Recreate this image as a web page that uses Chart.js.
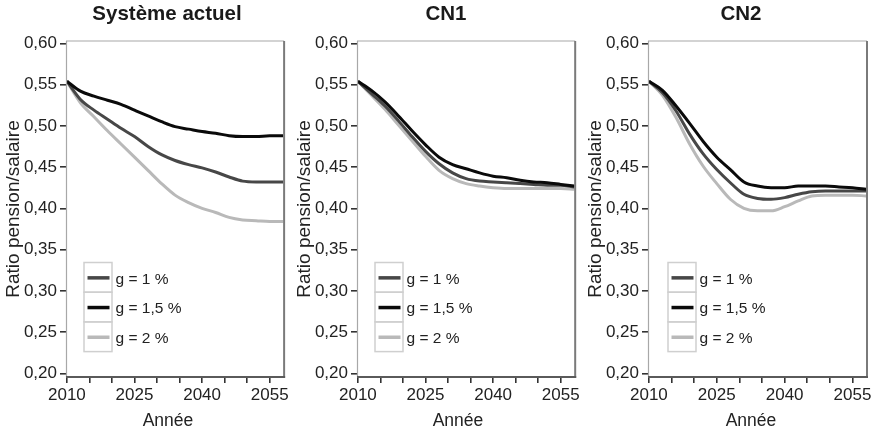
<!DOCTYPE html>
<html>
<head>
<meta charset="utf-8">
<script src="https://cdn.jsdelivr.net/npm/chart.js@4.4.1/dist/chart.umd.min.js"></script>
<style>
  html, body { margin: 0; padding: 0; background: #fff; }
  #wrap { position: relative; width: 874px; height: 432px; overflow: hidden; }
  .pane { position: absolute; top: 0; height: 432px; }
</style>
</head>
<body>
<div id="wrap">
  <div class="pane" style="left:0px;width:291px"><canvas id="c0" width="291" height="432"></canvas></div>
  <div class="pane" style="left:291px;width:291px"><canvas id="c1" width="291" height="432"></canvas></div>
  <div class="pane" style="left:582px;width:292px"><canvas id="c2" width="292" height="432"></canvas></div>
</div>
<script>
// ---------- data ----------
const years = [2010, 2013, 2016, 2019, 2022, 2025, 2028, 2031, 2034, 2037, 2040, 2043, 2046, 2049, 2052, 2055, 2058];
const panelTitles = ['Système actuel', 'CN1', 'CN2'];
const seriesLabels = ['g = 1 %', 'g = 1,5 %', 'g = 2 %'];
const seriesColors = ['#474747', '#0a0a0a', '#b9b9b9'];

const actuel_g1  = [0.554, 0.532, 0.519, 0.508, 0.497, 0.487, 0.475, 0.465, 0.458, 0.453, 0.449, 0.444, 0.438, 0.433, 0.432, 0.432, 0.432];
const actuel_g15 = [0.554, 0.542, 0.536, 0.531, 0.526, 0.519, 0.512, 0.505, 0.499, 0.496, 0.493, 0.491, 0.488, 0.487, 0.487, 0.488, 0.488];
const actuel_g2  = [0.554, 0.528, 0.511, 0.494, 0.478, 0.462, 0.446, 0.430, 0.416, 0.407, 0.400, 0.395, 0.389, 0.386, 0.385, 0.384, 0.384];

const cn1_g1  = [0.554, 0.539, 0.524, 0.506, 0.487, 0.469, 0.454, 0.443, 0.436, 0.433, 0.432, 0.431, 0.430, 0.429, 0.428, 0.428, 0.426];
const cn1_g15 = [0.554, 0.543, 0.529, 0.512, 0.494, 0.477, 0.462, 0.453, 0.448, 0.443, 0.439, 0.437, 0.434, 0.432, 0.431, 0.429, 0.427];
const cn1_g2  = [0.554, 0.537, 0.520, 0.501, 0.482, 0.463, 0.446, 0.436, 0.430, 0.427, 0.425, 0.424, 0.424, 0.424, 0.424, 0.424, 0.423];

const cn2_g1  = [0.554, 0.540, 0.518, 0.490, 0.466, 0.447, 0.431, 0.417, 0.412, 0.411, 0.413, 0.417, 0.420, 0.421, 0.421, 0.421, 0.421];
const cn2_g15 = [0.554, 0.543, 0.524, 0.503, 0.481, 0.462, 0.447, 0.432, 0.427, 0.425, 0.425, 0.427, 0.427, 0.427, 0.426, 0.425, 0.423];
const cn2_g2  = [0.554, 0.537, 0.510, 0.478, 0.451, 0.430, 0.411, 0.400, 0.397, 0.397, 0.402, 0.409, 0.415, 0.416, 0.416, 0.416, 0.415];

const yTicks = [0.20, 0.25, 0.30, 0.35, 0.40, 0.45, 0.50, 0.55, 0.60];
const xTicks = [2010, 2015, 2020, 2025, 2030, 2035, 2040, 2045, 2050, 2055];
const xTickLabels = [2010, 2025, 2040, 2055];
const yTitle = 'Ratio pension/salaire';
const xTitle = 'Année';

const panelSeries = [
  [actuel_g1, actuel_g15, actuel_g2],
  [cn1_g1, cn1_g15, cn1_g2],
  [cn2_g1, cn2_g15, cn2_g2]
];

// ---------- layout (styling only) ----------
const FONT = '"Liberation Sans", Arial, Helvetica, sans-serif';
const titleX = [167, 155, 159];
const xTitleX = [168, 167, 169];
const legendOffset = [18, 18, 20];
const canvasW = [291, 291, 292];
const plotRight = [285, 286, 285];

function makeChart(idx) {
  const series = panelSeries[idx];
  const datasets = series.map((vals, i) => ({
    label: seriesLabels[i],
    data: years.map((y, k) => ({ x: y, y: vals[k] })),
    borderColor: seriesColors[i],
    borderWidth: 3,
    pointRadius: 0,
    fill: false,
    cubicInterpolationMode: 'monotone',
    order: i === 1 ? 0 : (i === 0 ? 1 : 2)
  }));

  const decor = {
    id: 'decor' + idx,
    afterDraw(chart) {
      const ctx = chart.ctx;
      const a = chart.chartArea;
      ctx.save();
      // frame
      ctx.lineCap = 'butt';
      ctx.strokeStyle = '#a8a8a8';
      ctx.lineWidth = 1.2;
      ctx.beginPath(); ctx.moveTo(a.left, a.top); ctx.lineTo(a.right, a.top); ctx.stroke();
      ctx.beginPath(); ctx.moveTo(a.left + 0.5, a.top); ctx.lineTo(a.left + 0.5, a.bottom); ctx.stroke();
      ctx.strokeStyle = '#7a7a7a';
      ctx.lineWidth = 2;
      ctx.beginPath(); ctx.moveTo(a.right, a.top); ctx.lineTo(a.right, a.bottom + 1); ctx.stroke();
      ctx.strokeStyle = '#5a5a5a';
      ctx.beginPath(); ctx.moveTo(a.left, a.bottom); ctx.lineTo(a.right + 1, a.bottom); ctx.stroke();

      // panel title
      ctx.fillStyle = '#1a1a1a';
      ctx.font = 'bold 20.5px ' + FONT;
      ctx.textAlign = 'center';
      ctx.textBaseline = 'alphabetic';
      ctx.fillText(panelTitles[idx], titleX[idx], 19.5);

      // x axis title
      ctx.font = '17.5px ' + FONT;
      ctx.fillStyle = '#222';
      ctx.textBaseline = 'middle';
      ctx.fillText(xTitle, xTitleX[idx], 421);

      // legend
      const lx = a.left + legendOffset[idx];
      const ly = 262.5;
      const cw = 28, rh = 29.7;
      ctx.strokeStyle = '#cfcfcf';
      ctx.lineWidth = 1.5;
      for (let i = 0; i < seriesLabels.length; i++) {
        const top = ly + i * rh;
        ctx.strokeRect(lx, top, cw, rh);
        ctx.strokeStyle = seriesColors[i];
        ctx.lineWidth = 3.5;
        ctx.beginPath();
        ctx.moveTo(lx + 3.5, top + rh / 2 + 0.5);
        ctx.lineTo(lx + cw - 2.5, top + rh / 2 + 0.5);
        ctx.stroke();
        ctx.fillStyle = '#222';
        ctx.font = '15.5px ' + FONT;
        ctx.textAlign = 'left';
        ctx.textBaseline = 'middle';
        ctx.fillText(seriesLabels[i], lx + cw + 3.5, top + rh / 2 + 2);
        ctx.strokeStyle = '#cfcfcf';
        ctx.lineWidth = 1.5;
      }
      ctx.restore();
    }
  };

  return new Chart(document.getElementById('c' + idx), {
    type: 'line',
    data: { datasets },
    options: {
      responsive: false,
      animation: false,
      devicePixelRatio: 1,
      layout: { padding: { top: 41, right: canvasW[idx] - plotRight[idx], bottom: 0, left: 0 } },
      plugins: { legend: { display: false }, tooltip: { enabled: false }, title: { display: false } },
      scales: {
        x: {
          type: 'linear',
          min: 2009.8,
          max: 2058.2,
          afterFit(s) { s.height = 55; },
          afterBuildTicks(s) { s.ticks = xTicks.map(v => ({ value: v })); },
          border: { display: false },
          grid: { drawOnChartArea: false, drawTicks: true, tickLength: 6, color: '#333', lineWidth: 1.6 },
          ticks: {
            autoSkip: false, maxRotation: 0, padding: 2,
            color: '#222', font: { family: FONT, size: 17 },
            callback: v => xTickLabels.includes(v) ? String(v) : ''
          }
        },
        y: {
          type: 'linear',
          min: 0.1956,
          max: 0.6028,
          afterFit(s) { s.width = 66; },
          afterBuildTicks(s) { s.ticks = yTicks.map(v => ({ value: v })); },
          border: { display: false },
          grid: { drawOnChartArea: false, drawTicks: true, tickLength: 6, color: '#333', lineWidth: 1.6 },
          ticks: {
            padding: 3, color: '#222', font: { family: FONT, size: 17 },
            callback: v => v.toFixed(2).replace('.', ',')
          },
          title: {
            display: true, text: yTitle, color: '#222',
            font: { family: FONT, size: 19 }, padding: { top: 2, bottom: 0 }
          }
        }
      }
    },
    plugins: [decor]
  });
}

[0, 1, 2].forEach(makeChart);
</script>
</body>
</html>
